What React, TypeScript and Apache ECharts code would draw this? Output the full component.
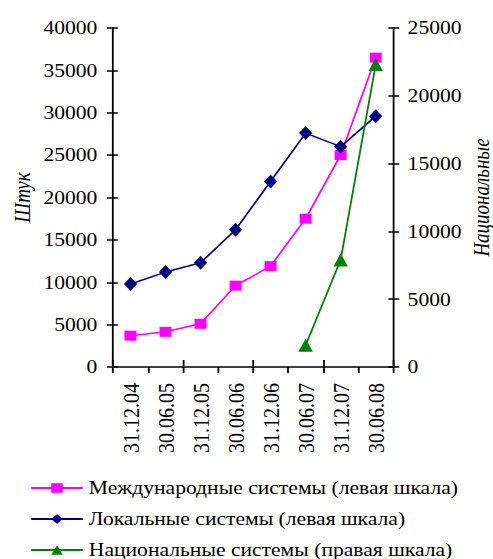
import React, { useEffect, useRef } from "react";
import * as echarts from "echarts";

const categories = ["31.12.04", "30.06.05", "31.12.05", "30.06.06", "31.12.06", "30.06.07", "31.12.07", "30.06.08"];
const intlValues = [3700, 4150, 5100, 9600, 11900, 17500, 25000, 36500];
const localValues = [9800, 11200, 12300, 16200, 21900, 27600, 26000, 29600];
const nationalValues: (number | null)[] = [null, null, null, null, null, 1600, 7900, 22300];

const leftName = "Штук";
const rightName = "Национальные";
const intlName = "Международные системы (левая шкала)";
const localName = "Локальные системы (левая шкала)";
const nationalName = "Национальные системы (правая шкала)";

const FONT = "'Liberation Serif', 'Times New Roman', Times, serif";
const SX = 1.2;
const W = 493 / SX;

export default function App() {
  const ref = useRef<HTMLDivElement>(null);
  useEffect(() => {
    if (!ref.current) return;
    const chart = echarts.init(ref.current, undefined, { renderer: "svg" });
    const axisLine = { show: true, lineStyle: { color: "#000", width: 1.5 } };
    const fmt = (v: number) => String(v);
    chart.setOption({
      animation: false,
      backgroundColor: "#fff",
      textStyle: { fontFamily: FONT, color: "#000" },
      grid: {
        left: 113 / SX,
        right: W - 393 / SX,
        top: 28,
        bottom: 192,
        containLabel: false,
        outerBoundsMode: "none",
      },
      legend: {
        orient: "vertical",
        left: 20,
        top: 473,
        height: 100,
        itemWidth: 43,
        itemHeight: 12,
        itemGap: 11,
        textStyle: { color: "#000", fontFamily: FONT, fontSize: 18, padding: [0, 0, 0, 0], lineHeight: 20 },
        data: [intlName, localName, nationalName],
      },
      xAxis: [
        {
          type: "category",
          data: categories,
          boundaryGap: true,
          axisLine,
          axisTick: { show: true, inside: false, length: 6, lineStyle: { color: "#000", width: 1.5 } },
          axisLabel: { color: "#000", fontFamily: FONT, fontSize: 20, rotate: 90, margin: 16, interval: 0 },
          splitLine: { show: false },
        },
        {
          type: "category",
          data: categories,
          position: "bottom",
          boundaryGap: true,
          axisLine: { show: false },
          axisTick: { show: true, inside: true, length: 7, lineStyle: { color: "#000", width: 1.5 } },
          axisLabel: { show: false },
          splitLine: { show: false },
        },
      ],
      yAxis: [
        {
          type: "value",
          position: "left",
          min: 0,
          max: 40000,
          interval: 5000,
          name: leftName,
          nameLocation: "middle",
          nameGap: 66,
          nameRotate: 90,
          nameMoveOverlap: false,
          nameTextStyle: { color: "#000", fontFamily: FONT, fontSize: 19, fontStyle: "italic" },
          axisLine,
          axisTick: { show: true, inside: false, length: 5, lineStyle: { color: "#000", width: 1.5 } },
          axisLabel: { color: "#000", fontFamily: FONT, fontSize: 18, margin: 13, formatter: fmt },
          splitLine: { show: false },
        },
        {
          type: "value",
          position: "right",
          min: 0,
          max: 25000,
          interval: 5000,
          name: rightName,
          nameLocation: "middle",
          nameGap: 64,
          nameRotate: 90,
          nameMoveOverlap: false,
          nameTextStyle: { color: "#000", fontFamily: FONT, fontSize: 19, fontStyle: "italic" },
          axisLine,
          axisTick: { show: true, inside: false, length: 5, lineStyle: { color: "#000", width: 1.5 } },
          axisLabel: { color: "#000", fontFamily: FONT, fontSize: 18, margin: 12, formatter: fmt },
          splitLine: { show: false },
        },
        {
          type: "value",
          position: "left",
          min: 0,
          max: 40000,
          interval: 5000,
          axisLine: { show: false },
          axisTick: { show: true, inside: true, length: 4, lineStyle: { color: "#000", width: 1.5 } },
          axisLabel: { show: false },
          splitLine: { show: false },
        },
        {
          type: "value",
          position: "right",
          min: 0,
          max: 25000,
          interval: 5000,
          axisLine: { show: false },
          axisTick: { show: true, inside: true, length: 4, lineStyle: { color: "#000", width: 1.5 } },
          axisLabel: { show: false },
          splitLine: { show: false },
        },
      ],
      series: [
        {
          name: intlName,
          type: "line",
          xAxisIndex: 0,
          yAxisIndex: 0,
          data: intlValues,
          symbol: "rect",
          symbolSize: 10,
          lineStyle: { color: "#FF00FF", width: 1.5 },
          itemStyle: { color: "#FF00FF" },
        },
        {
          name: localName,
          type: "line",
          xAxisIndex: 0,
          yAxisIndex: 0,
          data: localValues,
          symbol: "diamond",
          symbolSize: [11, 14],
          lineStyle: { color: "#000080", width: 1.5 },
          itemStyle: { color: "#000080" },
        },
        {
          name: nationalName,
          type: "line",
          xAxisIndex: 0,
          yAxisIndex: 1,
          data: nationalValues,
          symbol: "triangle",
          symbolSize: [12, 13],
          lineStyle: { color: "#008000", width: 1.5 },
          itemStyle: { color: "#008000" },
        },
      ],
    });
    return () => chart.dispose();
  }, []);
  return (
    <div style={{ position: "absolute", left: 0, top: 0, width: 493, height: 559, overflow: "hidden", background: "#fff" }}>
      <div
        ref={ref}
        style={{ width: W, height: 559, transform: `scaleX(${SX})`, transformOrigin: "0 0" }}
      />
    </div>
  );
}
